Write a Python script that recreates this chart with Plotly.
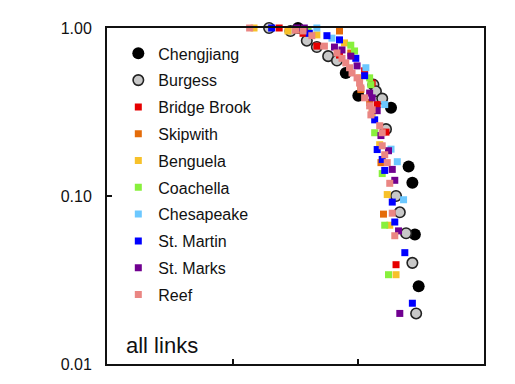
import plotly.graph_objects as go

# ---- data ----
series_names = ["Chengjiang", "Burgess", "Bridge Brook", "Skipwith", "Benguela",
                "Coachella", "Chesapeake", "St. Martin", "St. Marks", "Reef"]

chengjiang_x = [1.52, 1.90, 2.00, 2.26, 2.40, 2.43, 2.45, 2.48]
chengjiang_y = [1.00, 0.54, 0.395, 0.335, 0.150, 0.120, 0.059, 0.029]

burgess_x = [1.29, 1.46, 1.59, 1.67, 1.76, 1.83, 2.12, 2.14, 2.19, 2.22, 2.30, 2.33, 2.38, 2.43, 2.46]
burgess_y = [1.00, 0.96, 0.84, 0.77, 0.68, 0.64, 0.46, 0.42, 0.38, 0.25, 0.10, 0.08, 0.06, 0.04, 0.02]

bridge_x = [1.37, 1.56, 1.67, 1.85, 2.05, 2.11, 2.15, 2.22, 2.30]
bridge_y = [1.00, 0.93, 0.78, 0.69, 0.556, 0.47, 0.35, 0.24, 0.039]

skipwith_x = [1.55, 1.85, 1.94, 2.02, 2.09, 2.18, 2.20]
skipwith_y = [0.98, 0.96, 0.71, 0.43, 0.36, 0.158, 0.078]

benguela_x = [1.17, 1.44, 1.67, 1.89, 2.01, 2.11, 2.17, 2.23, 2.25, 2.30]
benguela_y = [1.00, 0.96, 0.91, 0.815, 0.505, 0.313, 0.202, 0.102, 0.067, 0.034]

coachella_x = [1.60, 1.94, 1.97, 2.09, 2.10, 2.13, 2.19, 2.21, 2.24]
coachella_y = [0.97, 0.79, 0.73, 0.505, 0.46, 0.238, 0.136, 0.067, 0.034]

chesapeake_x = [1.67, 1.79, 2.06, 2.21, 2.26, 2.31, 2.36]
chesapeake_y = [1.00, 0.87, 0.58, 0.35, 0.19, 0.16, 0.095]

stmartin_x = [1.31, 1.61, 1.75, 1.85, 1.98, 2.05, 2.13, 2.15, 2.19, 2.21, 2.27, 2.29, 2.37, 2.43]
stmartin_y = [1.00, 0.93, 0.90, 0.85, 0.66, 0.52, 0.284, 0.189, 0.165, 0.142, 0.092, 0.070, 0.046, 0.023]

stmarks_x = [1.51, 1.57, 1.81, 1.87, 1.94, 1.99, 2.09, 2.11, 2.15, 2.18, 2.24, 2.27, 2.29, 2.32, 2.33]
stmarks_y = [1.00, 1.00, 0.77, 0.74, 0.68, 0.595, 0.41, 0.384, 0.322, 0.229, 0.186, 0.144, 0.124, 0.062, 0.020]

reef_x = [1.135, 1.50, 1.56, 1.63, 1.73, 1.83, 1.87, 1.90, 1.93, 1.95, 1.99, 2.01, 2.02, 2.05,
          2.09, 2.11, 2.10, 2.17, 2.19, 2.19, 2.21, 2.23, 2.25, 2.27, 2.29]
reef_y = [1.00, 0.97, 0.96, 0.90, 0.78, 0.71, 0.66, 0.62, 0.58, 0.54, 0.505, 0.47, 0.44, 0.384,
          0.344, 0.326, 0.304, 0.262, 0.238, 0.199, 0.176, 0.158, 0.119, 0.079, 0.058]

y_tick_vals = [0.01, 0.1, 1.0]
y_tick_text = ["0.01", "0.10", "1.00"]
x_tick_vals = [1, 2]

xs = [chengjiang_x, burgess_x, bridge_x, skipwith_x, benguela_x,
      coachella_x, chesapeake_x, stmartin_x, stmarks_x, reef_x]
ys = [chengjiang_y, burgess_y, bridge_y, skipwith_y, benguela_y,
      coachella_y, chesapeake_y, stmartin_y, stmarks_y, reef_y]

styles = [
    dict(symbol="circle", size=12, color="#000000", line=dict(width=0)),
    dict(symbol="circle", size=10.5, color="#C8C8C8", line=dict(width=1.6, color="#222222")),
    dict(symbol="square", size=7, color="#E60000", line=dict(width=0)),
    dict(symbol="square", size=7, color="#E46C0A", line=dict(width=0)),
    dict(symbol="square", size=7, color="#F7C12A", line=dict(width=0)),
    dict(symbol="square", size=7, color="#88F03C", line=dict(width=0)),
    dict(symbol="square", size=7, color="#6CC8FF", line=dict(width=0)),
    dict(symbol="square", size=7, color="#0000FF", line=dict(width=0)),
    dict(symbol="square", size=7, color="#700090", line=dict(width=0)),
    dict(symbol="square", size=7, color="#EA8683", line=dict(width=0)),
]

fig = go.Figure()
for name, x, y, st in zip(series_names, xs, ys, styles):
    fig.add_trace(go.Scatter(x=x, y=y, mode="markers", name=name, marker=st,
                             legendgroup=name, cliponaxis=False))

axis_font = dict(family="Liberation Sans, Arial, sans-serif", size=16, color="#111111")

fig.update_layout(
    width=515, height=384,
    margin=dict(l=99, r=39, t=17, b=28),
    paper_bgcolor="white", plot_bgcolor="white",
    font=dict(family="Liberation Sans, Arial, sans-serif", color="#111111"),
    showlegend=True,
    legend=dict(x=0.03, y=0.975, xanchor="left", yanchor="top",
                bgcolor="rgba(0,0,0,0)", borderwidth=0,
                font=dict(family="Liberation Sans, Arial, sans-serif", size=16, color="#111111"),
                tracegroupgap=3, itemsizing="trace"),
    xaxis=dict(range=[0, 3], tickvals=x_tick_vals, showticklabels=False,
               ticks="inside", ticklen=5, tickwidth=1.5, tickcolor="#111111",
               showline=True, linewidth=2, linecolor="#111111", mirror=True,
               showgrid=False, zeroline=False),
    yaxis=dict(type="log", range=[-2, 0], tickvals=y_tick_vals, ticktext=y_tick_text,
               ticks="inside", ticklen=5, tickwidth=1.5, tickcolor="#111111",
               showline=True, linewidth=2, linecolor="#111111", mirror=True,
               showgrid=False, zeroline=False, tickfont=axis_font, ticklabelstandoff=10),
    annotations=[dict(text="all links", x=0.045, y=0.055, xref="paper", yref="paper",
                      xanchor="left", yanchor="middle", showarrow=False,
                      font=dict(family="Liberation Sans, Arial, sans-serif", size=22, color="#111111"))],
)

fig.write_html("out.html")
